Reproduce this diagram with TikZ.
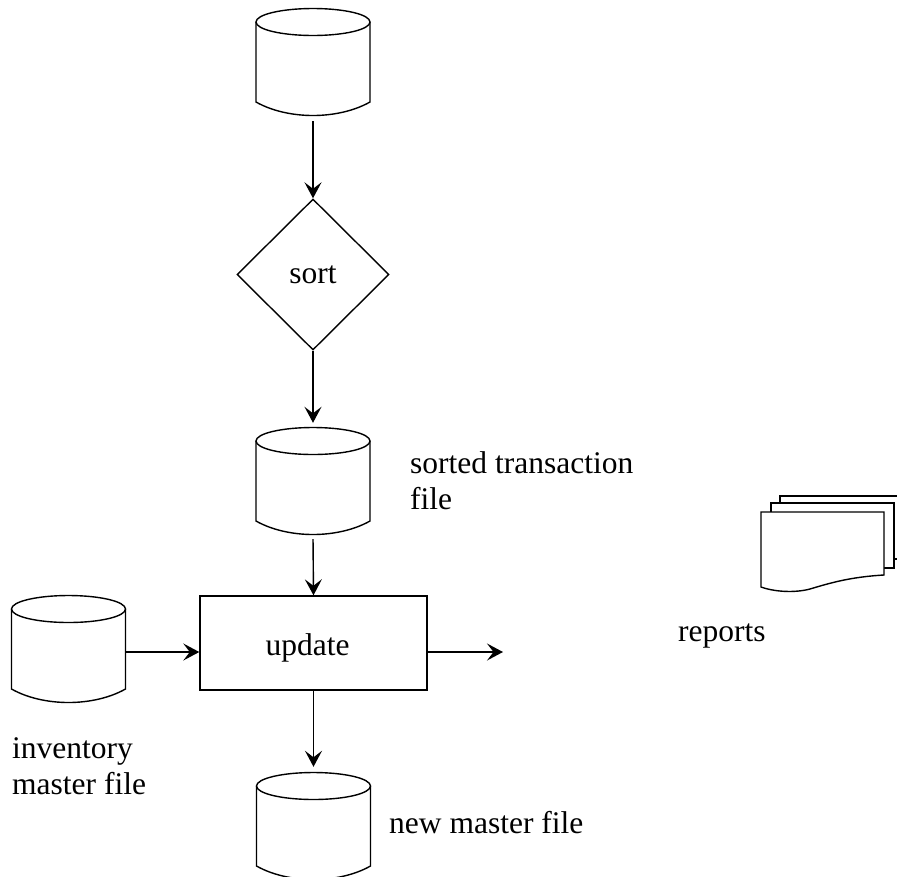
\documentclass[tikz,border=0pt]{standalone}
\usepackage{fontspec}
\setmainfont{Liberation Serif}
\usetikzlibrary{arrows.meta,shapes.geometric}

\tikzset{
  line/.style={line width=1.4pt, line join=miter},
  flow/.style={line, -{Stealth[length=16pt,width=17pt,inset=6.5pt]}},
  txt/.style={font=\fontsize{31.5}{36}\selectfont, inner sep=0pt, align=left},
  % disk file: origin at the top of the upper ellipse
  dbcyl/.pic={
    \draw[line, fill=white] (-57,14) -- (-57,94)
      .. controls (-25,112) and (25,112) .. (57,94) -- (57,14);
    \draw[line] (0,14) ellipse [x radius=57, y radius=13.5];
    \node[minimum width=114pt, minimum height=110pt, inner sep=0pt] (-box) at (0,55) {};
  }
}

\begin{document}
\begin{tikzpicture}[x=1pt, y=-1pt]
  \useasboundingbox (0,0) rectangle (897,876);

  % files
  \pic (src) at (313,8) {dbcyl};
  \pic (srt) at (313,427) {dbcyl};
  \pic (inv) at (68.5,595) {dbcyl};
  \pic (nmf) at (313.5,772) {dbcyl};

  % processes
  \node[diamond, draw, line, minimum width=152pt, minimum height=151pt,
        inner sep=0pt, font=\fontsize{31.5}{36}\selectfont] (sort) at (313,274.5) {sort};
  \node[draw, line, minimum width=227pt, minimum height=94pt, inner sep=0pt,
        label={[txt, xshift=-6pt, yshift=-5pt]center:update}] (upd) at (313.5,643) {};

  % reports (stacked documents)
  \draw[line] (780,503) -- (780,496) -- (905,496) -- (905,559) -- (894,559);
  \draw[line] (771,512) -- (771,503) -- (894,503) -- (894,568) -- (884,568);
  \draw[line, fill=white] (761,512) -- (884,512) -- (884,575)
     .. controls (850,577) and (830,583) .. (810,589)
     .. controls (795,593) and (775,592) .. (761,587) -- cycle;

  % labels (base anchor sits on the last line)
  \node[txt, anchor=base west] (lsrt) at (410,509) {sorted transaction\\file};
  \node[txt, anchor=base west] (linv) at (12,794) {inventory\\master file};
  \node[txt, anchor=base west] (lnmf) at (389,833) {new master file};
  \node[txt, anchor=base west] (lrep) at (678,641) {reports};

  % connectors
  \coordinate (outend) at (503,652);
  \draw[flow, shorten <=3pt] (src-box.south) -- (sort.north);
  \draw[flow, shorten >=4pt] (sort.south) -- (srt-box.north);
  \draw[flow, shorten <=2pt] (srt-box.south) -- (upd.north);
  \draw[flow, shorten >=5pt] (upd.south) -- (nmf-box.north);
  \draw[flow] (inv-box.east |- outend) -- (upd.west |- outend);
  \draw[flow] (upd.east |- outend) -- (outend);
\end{tikzpicture}
\end{document}
